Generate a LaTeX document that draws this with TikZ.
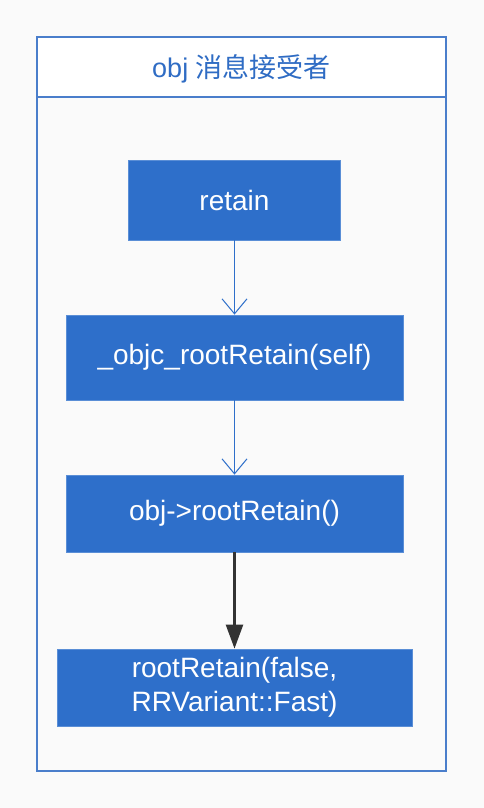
\documentclass[tikz,border=0pt]{standalone}
\usepackage{fontspec}
\setmainfont{Liberation Sans}
\newfontfamily\cjk{Noto Sans CJK SC}
\usetikzlibrary{arrows.meta}
\definecolor{boxblue}{HTML}{2E6FCA}
\definecolor{edgeblue}{HTML}{5A8ED6}
\definecolor{frameblue}{HTML}{4A7ECB}
\definecolor{textblue}{HTML}{2F6CC4}
\definecolor{bggray}{HTML}{FAFAFA}
\definecolor{darkline}{HTML}{333333}
\begin{document}
\begin{tikzpicture}[x=1pt, y=-1pt,
        stepbox/.style={draw=edgeblue, fill=boxblue, text=white, line width=0.8pt, inner sep=0pt, align=center, font=\fontsize{28}{34}\selectfont},
        flow/.style={draw=boxblue, line width=1pt, -{Straight Barb[length=15pt,width=25pt]}},
        call/.style={draw=darkline, line width=2.5pt, -{Triangle[length=24pt,width=17pt]}}]
        \fill[bggray] (0,0) rectangle (484,808);
        \useasboundingbox (0,0) rectangle (484,808);
        \draw[frameblue, line width=1.2pt, fill=white] (37,37) rectangle (446,97);
        \draw[frameblue, line width=1.2pt] (37,97) rectangle (446,771);
        \node[text=textblue, font=\fontsize{27}{32}\selectfont] (title) at (241.5,69) {obj {\cjk 消息接受者}};
        \node[stepbox, minimum width=212pt, minimum height=80pt] (retain) at (234.5,200) {retain};
        \node[stepbox, minimum width=337pt, minimum height=85pt] (rootself) at (234.5,357.5) {\_objc\_rootRetain(self)};
        \node[stepbox, minimum width=337pt, minimum height=77pt] (objroot) at (234.5,513.5) {obj->rootRetain()};
        \node[stepbox, minimum width=355pt, minimum height=77pt] (fastroot) at (234.5,687.5) {rootRetain(false,\\RRVariant::Fast)};
        \draw[flow] (retain) -- (rootself);
        \draw[flow] (rootself) -- (objroot);
        \draw[call] (objroot) -- (fastroot);
    \end{tikzpicture}
\end{document}
